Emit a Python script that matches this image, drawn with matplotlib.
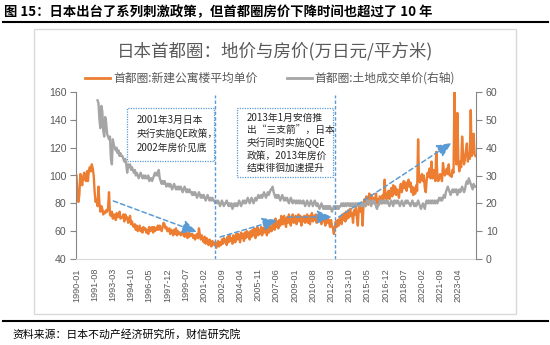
import numpy as np
import matplotlib
matplotlib.use("Agg")
import matplotlib.pyplot as plt
from matplotlib.patches import Rectangle
from matplotlib.lines import Line2D

CJK = ['Noto Sans CJK SC', 'DejaVu Sans']
NUM = ['Liberation Sans', 'DejaVu Sans']
plt.rcParams['font.family'] = CJK

# ---------------- data ----------------
start_month = '1990-01'
land_start = '1991-11'

# 首都圈:新建公寓楼平均单价 (万日元/平方米), monthly, left axis
condo_price = [
    100, 88, 81, 86, 101, 95, 93, 99, 102, 97, 96, 103,      # 1990
    96, 104, 106, 103, 108, 105, 100, 88, 81, 83, 78, 92,    # 1991
    80, 74, 78, 76, 72, 74, 73, 75, 74, 77, 88, 72,          # 1992
    71, 74, 69, 72, 70, 68, 73, 70, 71, 74, 69, 70,          # 1993
    70, 72, 67, 72, 69, 70, 66, 68, 71, 65, 67, 64,          # 1994
    63, 65, 61, 64, 60, 62, 64, 60, 62, 59, 63, 61,          # 1995
    62, 59, 61, 58, 63, 60, 61, 63, 59, 63, 60, 62,          # 1996
    61, 64, 61, 64, 62, 60, 63, 66, 65, 62, 63, 60,          # 1997
    60, 62, 58, 61, 60, 57, 61, 58, 62, 57, 60, 58,          # 1998
    59, 57, 58, 60, 57, 56, 59, 57, 55, 59, 56, 58,          # 1999
    57, 58, 55, 57, 54, 57, 58, 55, 62, 57, 54, 57,          # 2000
    54, 52, 56, 51, 55, 53, 50, 54, 52, 49, 53, 51,          # 2001
    50, 52, 48, 51, 53, 49, 52, 50, 54, 51, 55, 52,          # 2002
    54, 50, 56, 52, 57, 53, 55, 51, 57, 54, 52, 58,          # 2003
    54, 58, 55, 52, 59, 55, 58, 53, 59, 55, 60, 56,          # 2004
    59, 54, 60, 56, 61, 57, 62, 55, 60, 63, 57, 61,          # 2005
    58, 63, 57, 62, 59, 64, 60, 57, 63, 59, 65, 60,          # 2006
    60, 64, 66, 61, 69, 63, 67, 62, 68, 64, 71, 66,          # 2007
    65, 71, 67, 63, 70, 66, 72, 67, 64, 70, 72, 66,          # 2008
    69, 71, 65, 70, 72, 67, 71, 64, 70, 67, 71, 66,          # 2009
    70, 72, 66, 71, 65, 70, 73, 67, 71, 68, 72, 66,          # 2010
    71, 67, 70, 72, 65, 70, 67, 71, 64, 70, 66, 69,          # 2011
    66, 63, 68, 64, 62, 58, 63, 67, 63, 68, 64, 69,          # 2012
    70, 65, 72, 68, 73, 67, 74, 69, 75, 70, 76, 71,          # 2013
    73, 66, 75, 72, 77, 70, 64, 76, 79, 74, 78, 64,          # 2014
    80, 83, 78, 85, 80, 79, 87, 81, 86, 80, 84, 83,          # 2015
    82, 87, 80, 83, 79, 85, 82, 80, 86, 83, 97, 84,          # 2016
    83, 87, 89, 83, 88, 91, 85, 93, 87, 92, 86, 90,          # 2017
    88, 84, 91, 94, 88, 92, 96, 91, 95, 89, 94, 97,          # 2018
    92, 95, 88, 92, 86, 91, 87, 93, 89, 126, 96, 95,         # 2019
    99, 101, 96, 100, 91, 88, 97, 102, 99, 105, 98, 110,     # 2020
    98, 104, 100, 96, 117, 102, 96, 98, 101, 99, 96, 109,    # 2021
    103, 100, 102, 105, 101, 108, 100, 101, 99, 104, 102, 160,  # 2022
    118, 108, 145, 112, 103, 110, 106, 128, 115, 108, 112, 118,  # 2023
    123, 110, 116, 112, 147, 114, 118, 130, 115, 114,        # 2024
]

# 首都圈:土地成交单价 (右轴), monthly from 1991-11
land_price = [
    57, 56,                                                   # 1991 Nov-Dec
    50, 47, 55, 53, 46, 44, 51, 49, 45, 44, 43, 44,          # 1992
    36, 34, 43, 41, 40, 39, 40, 38, 39, 37, 38, 37,          # 1993
    37, 36, 35, 36, 34, 31, 34, 33, 34, 32, 33, 32,          # 1994
    31, 32, 30, 31, 30, 29, 30, 31, 30, 29, 30, 29,          # 1995
    30, 29, 29, 30, 28, 29, 29, 28, 29, 30, 31, 30,          # 1996
    31, 30, 32, 29, 28, 27, 28, 27, 28, 27, 26, 27,          # 1997
    27, 26, 27, 26, 25, 26, 27, 26, 25, 26, 25, 26,          # 1998
    25, 26, 25, 24, 25, 26, 25, 24, 25, 24, 25, 24,          # 1999
    24, 23, 24, 23, 24, 23, 22, 23, 24, 23, 22, 23,          # 2000
    22, 23, 22, 21, 22, 23, 22, 21, 22, 21, 22, 21,          # 2001
    21, 20, 21, 20, 21, 20, 19, 20, 21, 20, 19, 20,          # 2002
    20, 21, 20, 19, 20, 19, 20, 18, 19, 20, 19, 20,          # 2003
    19, 20, 21, 20, 19, 20, 21, 20, 21, 20, 21, 22,          # 2004
    21, 20, 21, 22, 21, 20, 21, 22, 21, 22, 23, 22,          # 2005
    22, 23, 22, 23, 24, 23, 22, 23, 24, 23, 24, 25,          # 2006
    25, 26, 24, 23, 22, 23, 22, 23, 22, 21, 22, 23,          # 2007
    22, 21, 22, 21, 22, 21, 20, 21, 22, 21, 20, 21,          # 2008
    21, 20, 21, 20, 21, 20, 21, 20, 20, 21, 20, 19,          # 2009
    20, 21, 20, 19, 20, 21, 20, 19, 20, 21, 20, 19,          # 2010
    20, 19, 18, 19, 20, 19, 18, 19, 18, 19, 18, 19,          # 2011
    18, 19, 18, 17, 18, 19, 18, 19, 18, 19, 18, 19,          # 2012
    19, 20, 19, 20, 19, 20, 19, 20, 20, 19, 20, 19,          # 2013
    20, 19, 20, 19, 20, 19, 20, 20, 19, 20, 19, 20,          # 2014
    19, 20, 19, 20, 21, 20, 21, 20, 19, 21, 20, 21,          # 2015
    20, 19, 18, 19, 20, 21, 20, 21, 20, 21, 20, 21,          # 2016
    20, 21, 20, 19, 20, 21, 20, 19, 21, 20, 21, 20,          # 2017
    21, 20, 19, 20, 21, 20, 19, 20, 21, 20, 21, 20,          # 2018
    20, 19, 20, 21, 20, 19, 20, 19, 20, 21, 20, 19,          # 2019
    18, 19, 20, 19, 18, 20, 21, 20, 21, 20, 21, 20,          # 2020
    21, 20, 21, 20, 21, 20, 21, 22, 21, 22, 21, 22,          # 2021
    23, 22, 24, 25, 26, 25, 24, 23, 24, 25, 24, 25,          # 2022
    24, 25, 23, 24, 25, 24, 25, 26, 25, 24, 25, 27,          # 2023
    28, 27, 29, 28, 27, 26, 25, 27, 26, 26,                  # 2024
]

tick_labels = ['1990-01', '1991-08', '1993-03', '1994-10', '1996-05', '1997-12',
               '1999-07', '2001-02', '2002-09', '2004-04', '2005-11', '2007-06',
               '2009-01', '2010-08', '2012-03', '2013-10', '2015-05', '2016-12',
               '2018-07', '2020-02', '2021-09', '2023-04']

policy_lines = ['2002-02', '2012-07']


def month_index(s):
    y, m = s.split('-')
    sy, sm = start_month.split('-')
    return (int(y) - int(sy)) * 12 + (int(m) - int(sm))


n = len(condo_price)
x = np.arange(n)
land = np.full(n, np.nan)
ls = month_index(land_start)
land[ls:ls + len(land_price)] = land_price

ORANGE = '#ED7D31'
GRAY = '#A5A5A5'
BLUE = '#5B9BD5'
TXT = '#595959'
AX = '#868686'

fig = plt.figure(figsize=(5.5, 3.45), dpi=100)
W, H = 550.0, 345.0

# frame box
fig.add_artist(Rectangle((34 / W, 1 - 314 / H), 482 / W, 285 / H, transform=fig.transFigure,
                         fill=False, edgecolor='#D9D9D9', lw=1.0))
# header / footer lines
fig.add_artist(Line2D([3 / W, 548 / W], [1 - 22 / H] * 2, transform=fig.transFigure, color='black', lw=1.5))
fig.add_artist(Line2D([3 / W, 548 / W], [1 - 321 / H] * 2, transform=fig.transFigure, color='black', lw=1.5))
fig.text(4 / W, 1 - 12 / H, '图 15：日本出台了系列刺激政策，但首都圈房价下降时间也超过了 10 年',
         fontsize=9.6, fontweight='bold', va='center', ha='left', color='black')
fig.text(12 / W, 1 - 334 / H, '资料来源：日本不动产经济研究所，财信研究院',
         fontsize=7.8, va='center', ha='left', color='black', style='italic')

# chart title
fig.text(275 / W, 1 - 51 / H, '日本首都圈：地价与房价(万日元/平方米)', fontsize=12.6,
         color=TXT, ha='center', va='center')
# legend
ly = 1 - 78 / H
fig.add_artist(Line2D([85 / W, 110 / W], [ly, ly], transform=fig.transFigure, color=ORANGE, lw=2))
fig.text(113 / W, ly, '首都圈:新建公寓楼平均单价', fontsize=8.5, color=TXT, va='center', ha='left')
fig.add_artist(Line2D([287 / W, 312 / W], [ly, ly], transform=fig.transFigure, color=GRAY, lw=2))
fig.text(314 / W, ly, '首都圈:土地成交单价(右轴)', fontsize=8.5, color=TXT, va='center', ha='left')

ax = fig.add_axes([76 / W, 1 - 259 / H, 400 / W, 167 / H])
ax2 = ax.twinx()

ax.plot(x, condo_price, color=ORANGE, lw=1.7, solid_joinstyle='round')
ax2.plot(x, land, color=GRAY, lw=1.7, solid_joinstyle='round')

ax.set_xlim(-0.5, n - 0.5)
ax.set_ylim(40, 160)
ax2.set_ylim(0, 60)
ax.set_yticks(np.arange(40, 161, 20))
ax2.set_yticks(np.arange(0, 61, 10))
ax.set_xticks([month_index(t) for t in tick_labels])
ax.set_xticklabels(tick_labels, rotation=90, family=NUM)

for a in (ax, ax2):
    a.spines['top'].set_visible(False)
    a.patch.set_visible(False)
ax.spines['right'].set_visible(False)
ax2.spines['left'].set_visible(False)
ax2.spines['bottom'].set_visible(False)
ax.spines['left'].set_color(AX)
ax2.spines['right'].set_color(AX)
ax.spines['bottom'].set_color('#D9D9D9')
for a in (ax, ax2):
    for lab in a.get_yticklabels():
        lab.set_family(NUM)
ax.tick_params(axis='y', direction='out', length=4, color=AX, labelcolor=TXT, labelsize=7.6, pad=3)
ax2.tick_params(axis='y', direction='out', length=4, color=AX, labelcolor=TXT, labelsize=7.6, pad=3)
ax.tick_params(axis='x', length=0, labelcolor=TXT, labelsize=6.6, pad=6.5)

# ------------- annotations (drawn on top, in left-axis coordinates) -------------
T = ax.transData
for d in policy_lines:
    m = month_index(d)
    ax2.add_line(Line2D([m, m], [40, 158], transform=T, color=BLUE, lw=1.0, linestyle=(0, (2.5, 1.5))))

ax2.add_patch(Rectangle((53, 110.5), 91, 38, transform=T, fill=False, edgecolor=BLUE, lw=0.9,
                        linestyle=(0, (1, 1))))
ax2.add_patch(Rectangle((168, 99), 100, 49.6, transform=T, fill=False, edgecolor=BLUE, lw=0.9,
                        linestyle=(0, (1, 1))))
ax2.text(62.5, 130, '2001年3月日本\n央行实施QE政策，\n2002年房价见底', transform=T, fontsize=7.0,
         color='#262626', va='center', ha='left', linespacing=1.45)
ax2.text(178, 123.5, '2013年1月安倍推\n出“三支箭”，日本\n央行同时实施QQE\n政策，2013年房价\n结束徘徊加速提升',
         transform=T, fontsize=7.0, color='#262626', va='center', ha='left', linespacing=1.3)

arrows = [((38.5, 81.7), (126, 59.4)),
          ((150, 55.8), (210, 68)),
          ((221, 70.2), (267, 70.2)),
          ((274, 70.2), (392, 123.4))]
for (x0, y0), (x1, y1) in arrows:
    ax2.annotate('', xy=(x1, y1), xytext=(x0, y0), xycoords=T, textcoords=T,
                 arrowprops=dict(arrowstyle='-|>,head_length=0.9,head_width=0.4', color=BLUE,
                                 lw=1.1, linestyle=(0, (3, 2)), shrinkA=0, shrinkB=0))

ax.set_xlim(-0.5, n - 0.5)
ax.set_ylim(40, 160)
ax2.set_ylim(0, 60)

fig.savefig('out.png', dpi=100)
